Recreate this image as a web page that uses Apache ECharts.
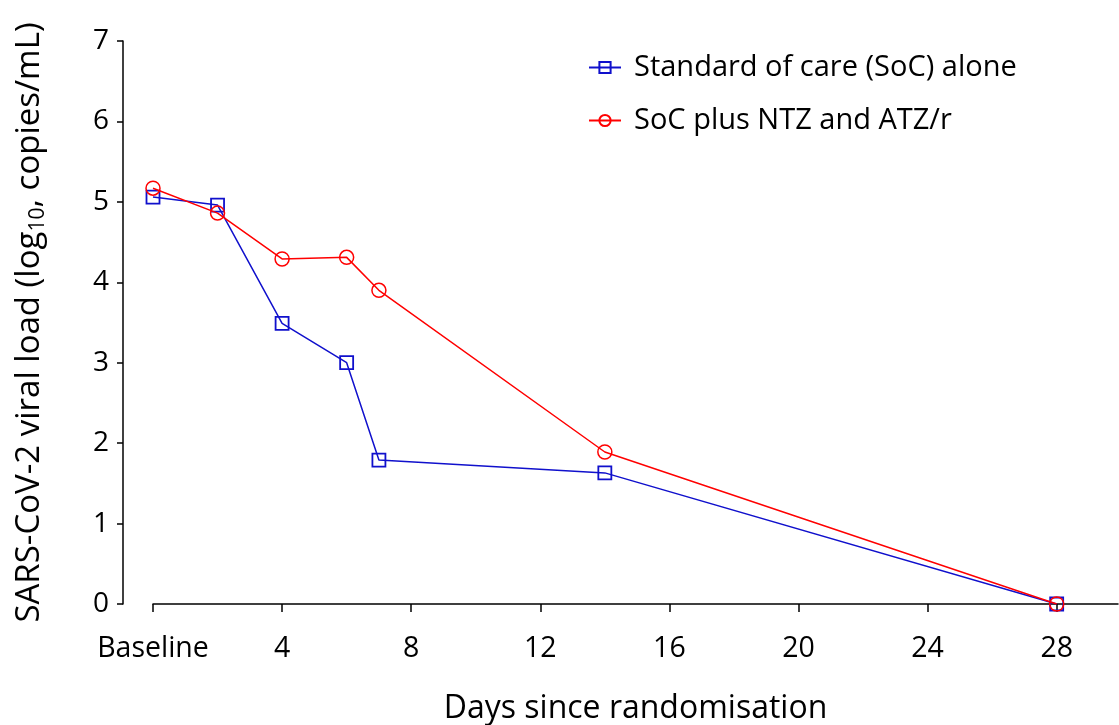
<!DOCTYPE html>
<html>
<head>
<meta charset="utf-8">
<script src="https://cdn.jsdelivr.net/npm/echarts@6/dist/echarts.min.js"></script>
<style>html,body{margin:0;padding:0;background:#fff;}#c{width:1119px;height:725px;}</style>
</head>
<body>
<div id="c"></div>
<script>
const days = [0, 2, 4, 6, 7, 14, 28];
const socAlone = [5.06, 4.96, 3.49, 3.00, 1.79, 1.63, 0];
const socPlus = [5.17, 4.86, 4.29, 4.31, 3.90, 1.89, 0];
const xTickValues = [0, 4, 8, 12, 16, 20, 24, 28];
const seriesNames = ['Standard of care (SoC) alone', 'SoC plus NTZ and ATZ/r'];
const FONT = 'Open Sans';
const chart = echarts.init(document.getElementById('c'));
chart.setOption({
  backgroundColor: '#fff',
  animation: false,
  grid: { left: 153, right: 1, top: 41, bottom: 121, outerBoundsMode: 'none', containLabel: false },
  legend: {
    orient: 'vertical', left: 583, top: 48, itemWidth: 32, itemHeight: 14, itemGap: 24,
    textStyle: { fontFamily: FONT, fontSize: 29, color: '#000', padding: [0, 0, 0, 8] },
    data: seriesNames
  },
  xAxis: {
    type: 'value', min: 0, max: 29.9,
    axisLine: { show: true, onZero: false, lineStyle: { color: '#000', width: 1.5 } },
    axisTick: { show: true, length: 8, lineStyle: { color: '#000', width: 1.5 }, customValues: xTickValues },
    axisLabel: { customValues: xTickValues, margin: 30, fontFamily: FONT, fontSize: 28.5, color: '#000',
      formatter: v => v === 0 ? 'Baseline' : String(v) },
    splitLine: { show: false },
    name: 'Days since randomisation', nameLocation: 'middle', nameGap: 89,
    nameTextStyle: { fontFamily: FONT, fontSize: 32, color: '#000' }
  },
  yAxis: {
    type: 'value', min: 0, max: 7, interval: 1, offset: 30,
    axisLine: { show: true, onZero: false, lineStyle: { color: '#000', width: 1.5 } },
    axisTick: { show: true, length: 6, lineStyle: { color: '#000', width: 1.5 } },
    axisLabel: { margin: 14, fontFamily: FONT, fontSize: 28, color: '#000' },
    splitLine: { show: false },
    name: '{a|SARS-CoV-2 viral load (log}{s|10}{a|, copies/mL)}',
    nameLocation: 'middle', nameGap: 74, nameRotate: 90,
    nameTextStyle: {
      fontFamily: FONT, fontSize: 33, color: '#000',
      rich: {
        a: { fontFamily: FONT, fontSize: 33, color: '#000', lineHeight: 38 },
        s: { fontFamily: FONT, fontSize: 21, color: '#000', lineHeight: 21, verticalAlign: 'bottom' }
      }
    }
  },
  series: [
    {
      name: seriesNames[0], type: 'line', data: days.map((d, i) => [d, socAlone[i]]),
      symbol: 'rect', symbolSize: 13, showAllSymbol: true,
      lineStyle: { color: '#1010cc', width: 1.5 },
      itemStyle: { color: 'rgba(255,255,255,0)', borderColor: '#1010cc', borderWidth: 1.8 },
      z: 2
    },
    {
      name: seriesNames[1], type: 'line', data: days.map((d, i) => [d, socPlus[i]]),
      symbol: 'circle', symbolSize: 14, showAllSymbol: true,
      lineStyle: { color: '#ff0000', width: 1.5 },
      itemStyle: { color: 'rgba(255,255,255,0)', borderColor: '#ff0000', borderWidth: 1.5 },
      z: 3
    }
  ]
});
</script>
</body>
</html>
